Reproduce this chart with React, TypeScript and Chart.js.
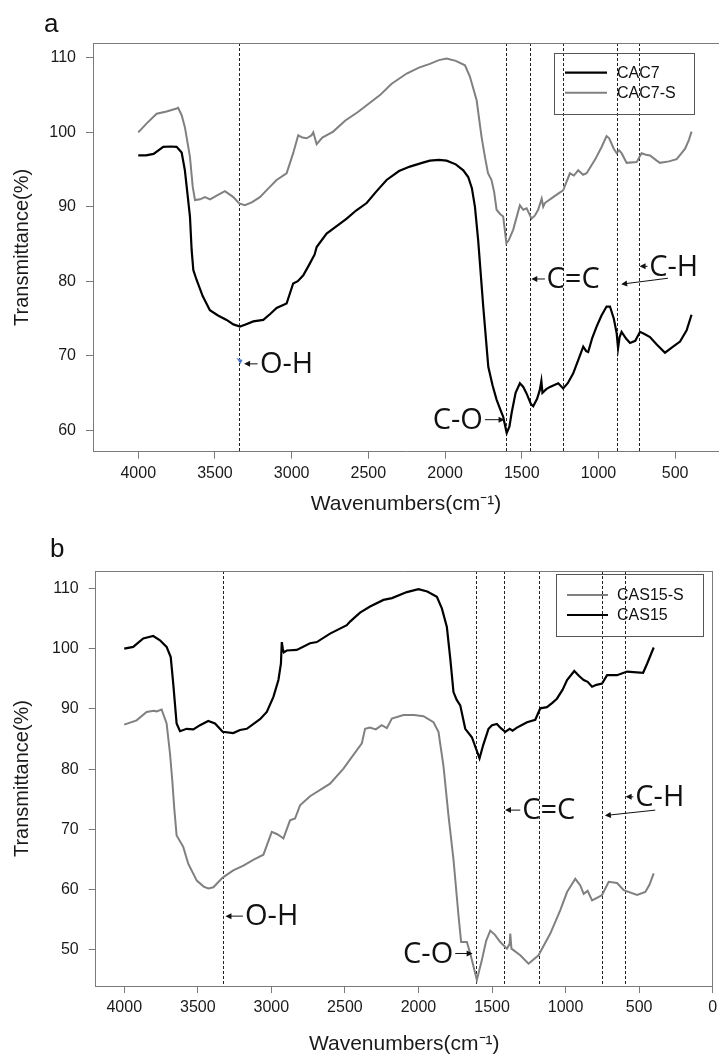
import React, { useEffect, useRef } from "react";
import { Chart, registerables } from "chart.js";

Chart.register(...registerables);

// ---------- Panel a data (wavenumber cm-1, transmittance %) ----------
const cac7Wn = [4000, 3950, 3900, 3837, 3790, 3750, 3717, 3696, 3663, 3652, 3641, 3620, 3580, 3533, 3480, 3424, 3380, 3337, 3300, 3250, 3185, 3140, 3098, 3033, 2990, 2960, 2924, 2881, 2850, 2837, 2772, 2700, 2641, 2580, 2511, 2450, 2381, 2300, 2229, 2150, 2099, 2040, 1990, 1930, 1881, 1849, 1825, 1805, 1784, 1751, 1718, 1690, 1664, 1640, 1621, 1598, 1580, 1566, 1540, 1512, 1490, 1468, 1440, 1425, 1400, 1382, 1372, 1365, 1340, 1316, 1262, 1230, 1200, 1165, 1130, 1099, 1080, 1067, 1040, 1012, 980, 947, 925, 900, 881, 872, 862, 849, 820, 794, 760, 729, 700, 664, 620, 566, 520, 468, 425, 393];
const cac7T = [96.9, 96.9, 97.1, 98.05, 98.1, 98.05, 97.3, 94.9, 88.7, 84.2, 81.5, 80.2, 78.0, 76.1, 75.4, 74.8, 74.2, 73.9, 74.2, 74.6, 74.8, 75.6, 76.4, 77.0, 79.7, 80.0, 80.8, 82.4, 83.6, 84.6, 86.4, 87.5, 88.4, 89.5, 90.5, 92.0, 93.6, 94.8, 95.4, 95.9, 96.2, 96.3, 96.2, 95.7, 94.9, 94.0, 92.5, 90.0, 85.5, 76.6, 68.5, 66.0, 64.1, 62.8, 61.8, 59.6, 60.5, 62.3, 65.0, 66.3, 65.8, 64.9, 63.5, 63.2, 64.2, 65.4, 66.6, 65.0, 65.5, 65.8, 66.3, 65.6, 66.3, 67.6, 69.5, 71.2, 70.6, 70.5, 72.4, 73.9, 75.4, 76.6, 76.6, 75.0, 73.0, 71.0, 72.5, 73.2, 72.3, 71.7, 72.0, 73.2, 72.9, 72.5, 71.5, 70.4, 71.1, 71.9, 73.4, 75.5];

const cac7sWn = [4000, 3945, 3880, 3815, 3750, 3740, 3717, 3696, 3663, 3645, 3630, 3597, 3565, 3532, 3480, 3435, 3380, 3342, 3305, 3260, 3207, 3150, 3098, 3033, 2990, 2957, 2930, 2902, 2870, 2859, 2837, 2800, 2729, 2650, 2570, 2424, 2350, 2250, 2170, 2099, 2040, 1990, 1930, 1870, 1838, 1794, 1762, 1740, 1720, 1697, 1680, 1664, 1640, 1621, 1600, 1585, 1556, 1512, 1490, 1468, 1436, 1415, 1393, 1370, 1360, 1349, 1295, 1260, 1230, 1186, 1160, 1132, 1100, 1077, 1023, 980, 947, 930, 900, 881, 865, 849, 816, 751, 719, 690, 664, 620, 599, 540, 490, 458, 435, 410, 393];
const cac7sT = [100.0, 101.2, 102.5, 102.8, 103.2, 103.3, 102.3, 100.7, 96.7, 92.7, 90.9, 91.0, 91.3, 91.0, 91.6, 92.1, 91.3, 90.45, 90.2, 90.6, 91.3, 92.5, 93.6, 94.5, 97.2, 99.6, 99.3, 99.2, 99.6, 100.0, 98.4, 99.3, 100.1, 101.6, 102.7, 105.0, 106.5, 107.9, 108.7, 109.2, 109.7, 109.9, 109.6, 109.0, 107.5, 104.3, 99.4, 96.7, 94.5, 93.6, 92.0, 89.6, 89.0, 88.7, 85.1, 85.5, 86.9, 90.2, 89.6, 89.8, 88.4, 88.8, 89.6, 91.1, 90.0, 90.5, 91.3, 91.8, 92.2, 94.5, 94.2, 94.9, 94.3, 94.5, 96.3, 98.0, 99.5, 99.2, 97.8, 97.2, 97.6, 97.2, 95.9, 96.0, 97.2, 97.0, 96.9, 96.2, 95.9, 96.1, 96.4, 97.2, 97.8, 99.0, 100.1];

const bandsA = [3340, 1602, 1445, 1228, 878, 737];
const xTicksA = [4000, 3500, 3000, 2500, 2000, 1500, 1000, 500];
const yTicksA = [60, 70, 80, 90, 100, 110];

// ---------- Panel b data ----------
const cas15Wn = [4000, 3939, 3871, 3803, 3757, 3712, 3684, 3667, 3644, 3621, 3576, 3530, 3485, 3429, 3383, 3331, 3259, 3213, 3167, 3077, 3031, 2986, 2952, 2935, 2929, 2922, 2915, 2895, 2827, 2737, 2691, 2601, 2487, 2465, 2397, 2329, 2238, 2180, 2079, 2000, 1940, 1875, 1841, 1807, 1784, 1762, 1740, 1716, 1682, 1637, 1610, 1585, 1560, 1524, 1500, 1467, 1440, 1410, 1380, 1360, 1331, 1300, 1262, 1206, 1172, 1127, 1090, 1059, 1020, 990, 941, 910, 877, 850, 820, 790, 752, 718, 650, 582, 473, 446, 401];
const cas15T = [100.0, 100.3, 101.7, 102.1, 101.4, 100.3, 98.6, 94.2, 87.6, 86.3, 86.7, 86.6, 87.3, 88.0, 87.6, 86.2, 86.0, 86.5, 86.7, 88.3, 89.5, 92.0, 94.8, 97.5, 101.1, 100.0, 99.4, 99.7, 99.8, 100.9, 101.1, 102.5, 103.9, 104.5, 106.0, 107.0, 108.1, 108.4, 109.4, 109.9, 109.5, 108.6, 106.7, 103.6, 98.4, 92.8, 91.5, 90.6, 86.7, 85.3, 83.5, 81.8, 84.0, 86.7, 87.3, 87.5, 86.8, 86.2, 86.7, 86.4, 86.9, 87.3, 87.8, 88.2, 90.1, 90.3, 91.0, 91.7, 93.2, 94.8, 96.3, 95.5, 94.8, 94.5, 93.7, 94.0, 94.2, 95.6, 95.6, 96.2, 96.0, 97.5, 100.2];

const cas15sWn = [4000, 3916, 3848, 3800, 3780, 3746, 3712, 3689, 3673, 3660, 3644, 3599, 3565, 3507, 3460, 3429, 3394, 3331, 3259, 3190, 3120, 3054, 2997, 2960, 2929, 2918, 2873, 2839, 2805, 2737, 2601, 2510, 2385, 2363, 2330, 2290, 2250, 2215, 2181, 2102, 2030, 1966, 1898, 1864, 1830, 1796, 1762, 1728, 1710, 1690, 1671, 1648, 1603, 1569, 1540, 1512, 1480, 1444, 1399, 1380, 1376, 1368, 1308, 1252, 1184, 1104, 1036, 990, 934, 900, 877, 850, 820, 790, 752, 707, 650, 605, 514, 458, 430, 401];
const cas15sT = [87.4, 88.1, 89.5, 89.7, 89.6, 89.9, 87.6, 82.6, 78.0, 73.5, 69.0, 67.1, 64.3, 61.5, 60.5, 60.2, 60.4, 62.0, 63.2, 64.0, 65.0, 65.8, 69.6, 69.2, 68.7, 68.5, 71.5, 71.8, 74.0, 75.5, 77.6, 80.1, 84.3, 86.7, 86.9, 86.6, 87.3, 86.8, 88.4, 89.0, 89.0, 88.8, 87.8, 86.2, 80.5, 72.3, 65.0, 55.7, 51.3, 51.3, 51.3, 49.4, 45.0, 48.3, 51.5, 53.2, 52.5, 51.3, 50.2, 51.0, 52.7, 50.2, 49.1, 47.7, 49.1, 52.7, 56.6, 59.6, 61.8, 60.7, 59.3, 59.8, 58.2, 58.6, 59.1, 61.3, 61.1, 59.9, 59.1, 59.6, 60.8, 62.7];

const bandsB = [3331, 1606, 1418, 1178, 751, 597];
const xTicksB = [4000, 3500, 3000, 2500, 2000, 1500, 1000, 500, 0];
const yTicksB = [50, 60, 70, 80, 90, 100, 110];

// ---------- styles ----------
const FONT = '"Liberation Sans", Arial, sans-serif';
const ANN_FONT = '"Open Sans", "Noto Sans", sans-serif';
const AXIS_COLOR = "#7a7a7a";
const TEXT_COLOR = "#1a1a1a";
const GRAY = "#808080";
const BLACK = "#000000";

const toPoints = (wn: number[], t: number[]) => wn.map((w, i) => ({ x: w, y: t[i] }));

type Ann = { text: string; tx: number; ty: number; align: "left" | "right"; arrows: number[][] };

// annotations in data units: text anchor (wn, T) and arrows [fromWn, fromT, toWn, toT]
const annA: Ann[] = [
  { text: "O-H", tx: 3207, ty: 68.85, align: "left", arrows: [[3222, 68.9, 3310, 68.9]] },
  { text: "C-O", tx: 1753, ty: 61.4, align: "right", arrows: [[1740, 61.4, 1612, 61.4]] },
  { text: "C=C", tx: 1338, ty: 80.3, align: "left", arrows: [[1349, 80.3, 1438, 80.3]] },
  { text: "C-H", tx: 669, ty: 82.0, align: "left", arrows: [[680, 82.0, 732, 82.0], [547, 80.4, 852, 79.6]] },
];
const annB: Ann[] = [
  { text: "O-H", tx: 3179, ty: 55.6, align: "left", arrows: [[3193, 55.6, 3312, 55.6]] },
  { text: "C-O", tx: 1764, ty: 49.4, align: "right", arrows: [[1750, 49.4, 1632, 49.4]] },
  { text: "C=C", tx: 1295, ty: 73.2, align: "left", arrows: [[1308, 73.2, 1412, 73.2]] },
  { text: "C-H", tx: 526, ty: 75.4, align: "left", arrows: [[540, 75.4, 592, 75.4], [390, 73.2, 733, 72.3]] },
];

function drawArrow(ctx: CanvasRenderingContext2D, x1: number, y1: number, x2: number, y2: number) {
  const ang = Math.atan2(y2 - y1, x2 - x1);
  const len = 6;
  const hw = 3;
  ctx.beginPath();
  ctx.moveTo(x1, y1);
  ctx.lineTo(x2 - Math.cos(ang) * len * 0.8, y2 - Math.sin(ang) * len * 0.8);
  ctx.stroke();
  ctx.beginPath();
  ctx.moveTo(x2, y2);
  ctx.lineTo(x2 - Math.cos(ang) * len - Math.sin(ang) * hw, y2 - Math.sin(ang) * len + Math.cos(ang) * hw);
  ctx.lineTo(x2 - Math.cos(ang) * len + Math.sin(ang) * hw, y2 - Math.sin(ang) * len - Math.cos(ang) * hw);
  ctx.closePath();
  ctx.fill();
}

const decorPlugin = {
  id: "decor",
  beforeDatasetsDraw(chart: any, _a: any, opts: any) {
    const { ctx, chartArea: ca, scales } = chart;
    ctx.save();
    ctx.strokeStyle = "#222";
    ctx.lineWidth = 1;
    ctx.setLineDash([3, 2]);
    for (const b of opts.bands as number[]) {
      const px = Math.round(scales.x.getPixelForValue(b)) + 0.5;
      ctx.beginPath();
      ctx.moveTo(px, ca.top);
      ctx.lineTo(px, ca.bottom);
      ctx.stroke();
    }
    ctx.restore();
  },
  afterDraw(chart: any, _a: any, opts: any) {
    const { ctx, chartArea: ca, scales } = chart;
    ctx.save();
    // frame
    ctx.strokeStyle = AXIS_COLOR;
    ctx.lineWidth = 1;
    ctx.beginPath();
    ctx.moveTo(ca.left, Math.round(ca.top) + 0.5);
    ctx.lineTo(ca.right, Math.round(ca.top) + 0.5);
    if (opts.rightBorder) {
      ctx.moveTo(Math.round(ca.right) - 0.5, ca.top);
      ctx.lineTo(Math.round(ca.right) - 0.5, ca.bottom);
    }
    ctx.stroke();

    // panel letter
    ctx.fillStyle = "#111";
    ctx.font = `26px ${FONT}`;
    ctx.textAlign = "left";
    ctx.textBaseline = "alphabetic";
    ctx.fillText(opts.letter, opts.letterX, opts.letterY);

    // legend
    const lg = opts.legend;
    ctx.strokeStyle = "#555";
    ctx.lineWidth = 1;
    ctx.strokeRect(lg.box[0] + 0.5, lg.box[1] + 0.5, lg.box[2] - lg.box[0], lg.box[3] - lg.box[1]);
    ctx.font = `16px ${FONT}`;
    ctx.textBaseline = "middle";
    lg.rows.forEach((r: any) => {
      const ds = chart.data.datasets[r.ds];
      ctx.strokeStyle = ds.borderColor;
      ctx.lineWidth = ds.borderWidth;
      ctx.beginPath();
      ctx.moveTo(lg.lineX[0], r.y);
      ctx.lineTo(lg.lineX[1], r.y);
      ctx.stroke();
      ctx.fillStyle = "#111";
      ctx.fillText(ds.label, lg.textX, r.y + 1);
    });

    // annotations
    ctx.font = `29px ${ANN_FONT}`;
    ctx.textBaseline = "middle";
    ctx.lineWidth = 1;
    (opts.anns as Ann[]).forEach((a) => {
      const x = scales.x.getPixelForValue(a.tx);
      const y = scales.y.getPixelForValue(a.ty);
      ctx.fillStyle = "#111";
      ctx.textAlign = a.align;
      ctx.fillText(a.text, x, y + 1);
      ctx.strokeStyle = "#111";
      a.arrows.forEach((ar) => {
        drawArrow(
          ctx,
          scales.x.getPixelForValue(ar[0]),
          scales.y.getPixelForValue(ar[1]),
          scales.x.getPixelForValue(ar[2]),
          scales.y.getPixelForValue(ar[3])
        );
      });
    });
    if (opts.blueTip) {
      const bx = scales.x.getPixelForValue(opts.blueTip[0]);
      const by = scales.y.getPixelForValue(opts.blueTip[1]);
      ctx.fillStyle = "#4a78c8";
      ctx.beginPath();
      ctx.moveTo(bx - 3, by - 3);
      ctx.lineTo(bx + 3, by - 1);
      ctx.lineTo(bx + 1, by + 3);
      ctx.closePath();
      ctx.fill();
    }
    ctx.restore();
  },
};

type PanelProps = {
  top: number;
  height: number;
  datasets: any[];
  xMin: number;
  xMax: number;
  yMin: number;
  yMax: number;
  xTicks: number[];
  yTicks: number[];
  yAxisWidth: number;
  xAxisHeight: number;
  padding: any;
  titlePadBottom: number;
  decor: any;
};

function Panel(p: PanelProps) {
  const ref = useRef<HTMLCanvasElement>(null);
  useEffect(() => {
    if (!ref.current) return;
    const tickFont = { family: FONT, size: 16 };
    const chart = new Chart(ref.current, {
      type: "line",
      data: { datasets: p.datasets },
      options: {
        animation: false,
        responsive: false,
        devicePixelRatio: 1,
        layout: { padding: p.padding },
        parsing: false as any,
        plugins: {
          legend: { display: false },
          tooltip: { enabled: false },
          decor: p.decor,
        } as any,
        elements: { point: { radius: 0 }, line: { tension: 0 } },
        scales: {
          x: {
            type: "linear",
            reverse: true,
            min: p.xMin,
            max: p.xMax,
            afterBuildTicks: (s: any) => {
              s.ticks = p.xTicks.map((v) => ({ value: v }));
            },
            ticks: {
              autoSkip: false,
              maxRotation: 0,
              font: tickFont,
              color: TEXT_COLOR,
              padding: 5,
              callback: (v: any) => String(v),
            },
            grid: { drawOnChartArea: false, drawTicks: true, tickLength: 7, color: AXIS_COLOR },
            border: { display: true, color: AXIS_COLOR, width: 1 },
            title: {
              display: true,
              text: "Wavenumbers(cm⁻¹)",
              color: TEXT_COLOR,
              font: { family: FONT, size: 21, lineHeight: 1 },
              padding: { top: 0, bottom: p.titlePadBottom },
            },
            afterFit: (s: any) => {
              s.height = p.xAxisHeight;
              s.paddingLeft = 0;
              s.paddingRight = 0;
            },
          },
          y: {
            type: "linear",
            min: p.yMin,
            max: p.yMax,
            afterBuildTicks: (s: any) => {
              s.ticks = p.yTicks.map((v) => ({ value: v }));
            },
            ticks: {
              font: tickFont,
              color: TEXT_COLOR,
              padding: 10,
              callback: (v: any) => String(v),
            },
            grid: { drawOnChartArea: false, drawTicks: true, tickLength: 7, color: AXIS_COLOR },
            border: { display: true, color: AXIS_COLOR, width: 1 },
            title: {
              display: true,
              text: "Transmittance(%)",
              color: TEXT_COLOR,
              font: { family: FONT, size: 20, lineHeight: 1 },
              padding: { top: 12, bottom: 0 },
            },
            afterFit: (s: any) => {
              s.width = p.yAxisWidth;
              s.paddingTop = 0;
              s.paddingBottom = 0;
            },
          },
        },
      } as any,
      plugins: [decorPlugin as any],
    });
    return () => chart.destroy();
  }, []);
  return (
    <canvas
      ref={ref}
      width={719}
      height={p.height}
      style={{ position: "absolute", left: 0, top: p.top, width: 719, height: p.height }}
    />
  );
}

export default function App() {
  const dsA = [
    { label: "CAC7", data: toPoints(cac7Wn, cac7T), borderColor: BLACK, borderWidth: 2.2, fill: false },
    { label: "CAC7-S", data: toPoints(cac7sWn, cac7sT), borderColor: GRAY, borderWidth: 2, fill: false },
  ];
  const dsB = [
    { label: "CAS15-S", data: toPoints(cas15sWn, cas15sT), borderColor: GRAY, borderWidth: 2, fill: false },
    { label: "CAS15", data: toPoints(cas15Wn, cas15T), borderColor: BLACK, borderWidth: 2.2, fill: false },
  ];
  return (
    <div style={{ position: "absolute", left: 0, top: 0, width: 719, height: 1056, background: "#fff" }}>
      <Panel
        top={0}
        height={525}
        datasets={dsA}
        xMin={214}
        xMax={4295}
        yMin={57.1}
        yMax={112}
        xTicks={xTicksA}
        yTicks={yTicksA}
        yAxisWidth={93}
        xAxisHeight={73.3}
        padding={{ top: 43, left: 0, right: 0, bottom: 0 }}
        titlePadBottom={10}
        decor={{
          letter: "a",
          letterX: 44,
          letterY: 31.5,
          bands: bandsA,
          rightBorder: false,
          legend: { box: [554, 53, 694, 114], lineX: [565, 607], textX: 617, rows: [{ ds: 0, y: 72.7 }, { ds: 1, y: 92.7 }] },
          anns: annA,
          blueTip: [3340, 69.3],
        }}
      />
      <Panel
        top={525}
        height={531}
        datasets={dsB}
        xMin={0}
        xMax={4194}
        yMin={44}
        yMax={112.9}
        xTicks={xTicksB}
        yTicks={yTicksB}
        yAxisWidth={95.7}
        xAxisHeight={70}
        padding={{ top: 46, left: 0, right: 6.3, bottom: 0 }}
        titlePadBottom={1}
        decor={{
          letter: "b",
          letterX: 50,
          letterY: 31.5,
          bands: bandsB,
          rightBorder: true,
          legend: { box: [556, 49, 703, 111], lineX: [567, 608], textX: 617, rows: [{ ds: 0, y: 70 }, { ds: 1, y: 90 }] },
          anns: annB,
          blueTip: null,
        }}
      />
    </div>
  );
}
